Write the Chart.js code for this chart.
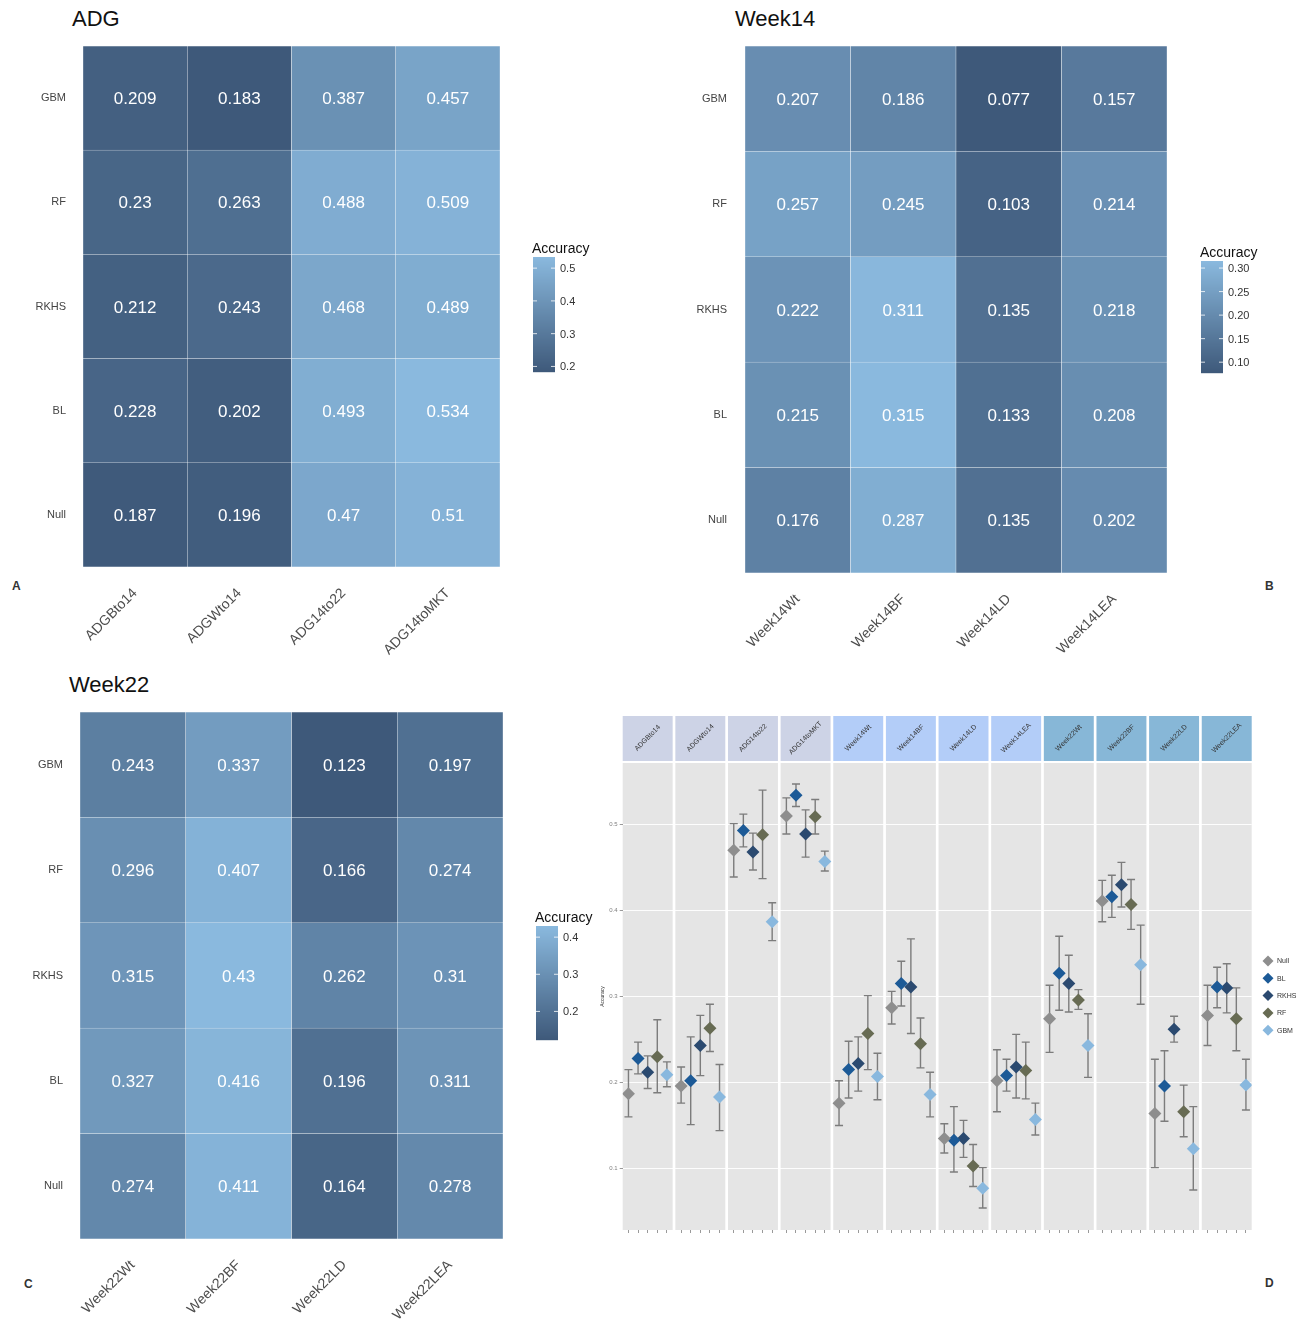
<!DOCTYPE html>
<html>
<head>
<meta charset="utf-8">
<script src="https://cdn.jsdelivr.net/npm/chart.js@4.4.0/dist/chart.umd.min.js"></script>
<style>
  body { margin: 0; background: #fff; width: 1300px; height: 1325px; position: relative; overflow: hidden;
         font-family: "Liberation Sans", Arial, sans-serif; }
  canvas { position: absolute; }
  .title { position: absolute; font-size: 22px; color: #111; line-height: 1; }
  .tag { position: absolute; font-size: 12px; font-weight: bold; color: #333; line-height: 1; }
</style>
</head>
<body>
<div class="title" style="left:72px;top:8px">ADG</div>
<div class="title" style="left:735px;top:8px">Week14</div>
<div class="title" style="left:69px;top:674px">Week22</div>
<div class="tag" style="left:12px;top:580px">A</div>
<div class="tag" style="left:1265px;top:580px">B</div>
<div class="tag" style="left:24px;top:1278px">C</div>
<div class="tag" style="left:1265px;top:1277px">D</div>

<canvas id="hmADG" width="650" height="665" style="left:0;top:0"></canvas>
<canvas id="hmW14" width="650" height="665" style="left:650px;top:0"></canvas>
<canvas id="dots" width="710" height="660" style="left:590px;top:665px"></canvas>
<canvas id="hmW22" width="620" height="660" style="left:0;top:665px"></canvas>

<script>
// ---- data ----
const models = ['Null', 'BL', 'RKHS', 'RF', 'GBM'];          // heatmap rows, bottom to top

const adgTraits  = ['ADGBto14', 'ADGWto14', 'ADG14to22', 'ADG14toMKT'];
const wk14Traits = ['Week14Wt', 'Week14BF', 'Week14LD', 'Week14LEA'];
const wk22Traits = ['Week22Wt', 'Week22BF', 'Week22LD', 'Week22LEA'];

// accuracy by model, one value per trait
const adgNull = [0.187, 0.196, 0.47, 0.51];
const adgBL   = [0.228, 0.202, 0.493, 0.534];
const adgRKHS = [0.212, 0.243, 0.468, 0.489];
const adgRF   = [0.23, 0.263, 0.488, 0.509];
const adgGBM  = [0.209, 0.183, 0.387, 0.457];

const wk14Null = [0.176, 0.287, 0.135, 0.202];
const wk14BL   = [0.215, 0.315, 0.133, 0.208];
const wk14RKHS = [0.222, 0.311, 0.135, 0.218];
const wk14RF   = [0.257, 0.245, 0.103, 0.214];
const wk14GBM  = [0.207, 0.186, 0.077, 0.157];

const wk22Null = [0.274, 0.411, 0.164, 0.278];
const wk22BL   = [0.327, 0.416, 0.196, 0.311];
const wk22RKHS = [0.315, 0.43, 0.262, 0.31];
const wk22RF   = [0.296, 0.407, 0.166, 0.274];
const wk22GBM  = [0.243, 0.337, 0.123, 0.197];

// colour-bar tick labels
const adgBarTicks  = [0.2, 0.3, 0.4, 0.5];
const wk14BarTicks = [0.10, 0.15, 0.20, 0.25, 0.30];
const wk22BarTicks = [0.2, 0.3, 0.4];

// interval bounds for the dot plot (12 traits: ADG, Week14, Week22)
const nullLower = [0.160, 0.176, 0.439, 0.489, 0.150, 0.268, 0.118, 0.166, 0.235, 0.387, 0.101, 0.243];
const nullUpper = [0.215, 0.218, 0.501, 0.531, 0.202, 0.306, 0.152, 0.238, 0.313, 0.435, 0.227, 0.313];
const blLower   = [0.210, 0.151, 0.474, 0.521, 0.182, 0.289, 0.096, 0.190, 0.284, 0.392, 0.155, 0.287];
const blUpper   = [0.247, 0.253, 0.512, 0.547, 0.248, 0.341, 0.172, 0.227, 0.370, 0.441, 0.237, 0.334];
const rkhsLower = [0.193, 0.208, 0.447, 0.462, 0.190, 0.257, 0.113, 0.182, 0.282, 0.404, 0.247, 0.281];
const rkhsUpper = [0.231, 0.278, 0.490, 0.517, 0.253, 0.367, 0.156, 0.256, 0.348, 0.456, 0.277, 0.338];
const rfLower   = [0.188, 0.236, 0.437, 0.489, 0.215, 0.217, 0.079, 0.181, 0.285, 0.378, 0.137, 0.237];
const rfUpper   = [0.273, 0.291, 0.540, 0.529, 0.301, 0.275, 0.128, 0.247, 0.308, 0.436, 0.197, 0.310];
const gbmLower  = [0.195, 0.144, 0.365, 0.446, 0.180, 0.160, 0.054, 0.139, 0.206, 0.291, 0.075, 0.168];
const gbmUpper  = [0.224, 0.221, 0.409, 0.469, 0.234, 0.212, 0.101, 0.176, 0.280, 0.383, 0.172, 0.227];

const dotTicks = [0.1, 0.2, 0.3, 0.4, 0.5];

// ---- styling ----
const FONT = '"Liberation Sans", Arial, sans-serif';
Chart.defaults.font.family = FONT;
Chart.defaults.animation = false;

const LOW = [62, 89, 122], HIGH = [138, 185, 222];
function shade(t) {
  t = Math.max(0, Math.min(1, t));
  const c = LOW.map((l, i) => Math.round(l + (HIGH[i] - l) * t));
  return `rgb(${c[0]},${c[1]},${c[2]})`;
}

// cell value labels
const cellText = {
  id: 'cellText',
  afterDatasetsDraw(chart) {
    const ctx = chart.ctx;
    ctx.save();
    ctx.fillStyle = '#fff';
    ctx.font = '17px ' + FONT;
    ctx.textAlign = 'center';
    ctx.textBaseline = 'middle';
    chart.data.datasets.forEach((ds, di) => {
      chart.getDatasetMeta(di).data.forEach((bar, i) => {
        const c = bar.getCenterPoint();
        ctx.fillText(String(ds.acc[i]), c.x, c.y + 1.5);
      });
    });
    ctx.restore();
  }
};

// continuous colour legend
const colorBar = {
  id: 'colorBar',
  afterDraw(chart, args, o) {
    const ctx = chart.ctx;
    const h = o.bottom - o.top;
    ctx.save();
    for (let k = 0; k < h; k++) {
      ctx.fillStyle = shade(1 - (k + 0.5) / h);
      ctx.fillRect(o.x, o.top + k, o.width, 1.2);
    }
    ctx.fillStyle = '#111';
    ctx.font = '14px ' + FONT;
    ctx.textAlign = 'left';
    ctx.textBaseline = 'alphabetic';
    ctx.fillText('Accuracy', o.x - 1, o.top - 4);
    ctx.font = '11px ' + FONT;
    ctx.textBaseline = 'middle';
    ctx.strokeStyle = 'rgba(255,255,255,0.8)';
    ctx.lineWidth = 1;
    o.ticks.forEach(v => {
      const y = o.bottom - (v - o.lo) / (o.hi - o.lo) * h;
      ctx.beginPath();
      ctx.moveTo(o.x, y); ctx.lineTo(o.x + 4, y);
      ctx.moveTo(o.x + o.width - 4, y); ctx.lineTo(o.x + o.width, y);
      ctx.stroke();
      ctx.fillStyle = '#333';
      ctx.fillText(o.labels ? v.toFixed(2) : String(v), o.x + o.width + 5, y + 1);
    });
    ctx.restore();
  }
};

function heatmap(id, traits, rows, box, bar) {
  const all = rows.flat();
  const lo = Math.min(...all), hi = Math.max(...all);
  const datasets = rows.map((vals, i) => ({
    label: models[i],
    data: vals.map(() => 1),
    acc: vals,
    backgroundColor: vals.map(v => shade((v - lo) / (hi - lo))),
    borderColor: 'rgba(255,255,255,0.45)',
    borderWidth: 0.5,
    borderSkipped: false,
    barPercentage: 1,
    categoryPercentage: 1
  }));
  return new Chart(document.getElementById(id), {
    type: 'bar',
    data: { labels: traits, datasets },
    options: {
      responsive: false,
      events: [],
      layout: { padding: { left: 0, top: box.top, right: box.right, bottom: 0 } },
      plugins: {
        legend: { display: false },
        tooltip: { enabled: false },
        colorBar: Object.assign({ lo, hi }, bar)
      },
      scales: {
        x: {
          stacked: true,
          grid: { display: false },
          border: { display: false },
          ticks: { color: '#4d4d4d', font: { size: 14 }, minRotation: 45, maxRotation: 45, autoSkip: false, padding: 10 },
          afterFit: s => { s.height = box.xh; }
        },
        y: {
          stacked: true, min: 0, max: models.length,
          grid: { display: false },
          border: { display: false },
          afterBuildTicks: s => { s.ticks = models.map((m, i) => ({ value: i + 0.5 })); },
          ticks: { color: '#444', font: { size: 11 }, padding: box.ypad, callback: (v, i) => models[i] },
          afterFit: s => { s.width = box.yw; }
        }
      }
    },
    plugins: [cellText, colorBar]
  });
}

heatmap('hmADG', adgTraits, [adgNull, adgBL, adgRKHS, adgRF, adgGBM],
  { top: 46, right: 150, xh: 98, yw: 83, ypad: 9 },
  { x: 533, width: 22, top: 257, bottom: 372, ticks: adgBarTicks });
heatmap('hmW14', wk14Traits, [wk14Null, wk14BL, wk14RKHS, wk14RF, wk14GBM],
  { top: 46, right: 133, xh: 92, yw: 95, ypad: 10 },
  { x: 551, width: 22, top: 261, bottom: 373, ticks: wk14BarTicks, labels: true });
heatmap('hmW22', wk22Traits, [wk22Null, wk22BL, wk22RKHS, wk22RF, wk22GBM],
  { top: 47, right: 117, xh: 86, yw: 80, ypad: 9 },
  { x: 536, width: 22, top: 261, bottom: 375, ticks: wk22BarTicks });

// ---- dot plot with intervals, faceted by trait ----
const dotTraits = adgTraits.concat(wk14Traits, wk22Traits);
const stripColors = ['#cdd3e6', '#b3cdf8', '#87b7d7'];
const stripGroup = dotTraits.map(t => adgTraits.includes(t) ? 0 : (wk14Traits.includes(t) ? 1 : 2));
const FACET = 5.48, PANEL = 5.2;                       // x units per facet / panel width
const pos = (f, k) => f * FACET + 0.6 + k;             // k = model index within facet

const dotSeries = [
  { name: 'Null', color: '#8e8e8e', acc: adgNull.concat(wk14Null, wk22Null), lower: nullLower, upper: nullUpper },
  { name: 'BL',   color: '#1c5a97', acc: adgBL.concat(wk14BL, wk22BL),       lower: blLower,   upper: blUpper },
  { name: 'RKHS', color: '#2b4a70', acc: adgRKHS.concat(wk14RKHS, wk22RKHS), lower: rkhsLower, upper: rkhsUpper },
  { name: 'RF',   color: '#676b53', acc: adgRF.concat(wk14RF, wk22RF),       lower: rfLower,   upper: rfUpper },
  { name: 'GBM',  color: '#89b8de', acc: adgGBM.concat(wk14GBM, wk22GBM),    lower: gbmLower,  upper: gbmUpper }
];

const facets = {
  id: 'facets',
  beforeDraw(chart) {
    const { ctx, chartArea: a, scales: { x } } = chart;
    ctx.save();
    dotTraits.forEach((t, f) => {
      const l = x.getPixelForValue(f * FACET), r = x.getPixelForValue(f * FACET + PANEL);
      ctx.fillStyle = '#e5e5e5';
      ctx.fillRect(l, a.top, r - l, a.bottom - a.top);
      ctx.fillStyle = stripColors[stripGroup[f]];
      ctx.fillRect(l, a.top - 47, r - l, 45);
      ctx.save();
      ctx.translate((l + r) / 2, a.top - 25);
      ctx.rotate(-Math.PI / 4);
      ctx.fillStyle = '#333';
      ctx.font = '7px ' + FONT;
      ctx.textAlign = 'center';
      ctx.textBaseline = 'middle';
      ctx.fillText(t, 0, 0);
      ctx.restore();
    });
    ctx.restore();
  }
};

const errorBars = {
  id: 'errorBars',
  beforeDatasetsDraw(chart) {
    const { ctx, scales: { y } } = chart;
    ctx.save();
    ctx.strokeStyle = 'rgba(112,112,112,0.9)';
    ctx.lineWidth = 1.4;
    chart.data.datasets.forEach((ds, di) => {
      chart.getDatasetMeta(di).data.forEach((pt, i) => {
        const top = y.getPixelForValue(ds.upper[i]), bot = y.getPixelForValue(ds.lower[i]);
        ctx.beginPath();
        ctx.moveTo(pt.x, top); ctx.lineTo(pt.x, bot);
        ctx.moveTo(pt.x - 4, top); ctx.lineTo(pt.x + 4, top);
        ctx.moveTo(pt.x - 4, bot); ctx.lineTo(pt.x + 4, bot);
        ctx.stroke();
      });
    });
    ctx.restore();
  }
};

const keyBox = {
  id: 'keyBox',
  afterDraw(chart) {
    const ctx = chart.ctx;
    ctx.save();
    ctx.font = '7px ' + FONT;
    ctx.textBaseline = 'middle';
    chart.data.datasets.forEach((ds, i) => {
      const cy = 296 + i * 17.3, cx = 678;
      ctx.fillStyle = ds.backgroundColor;
      ctx.beginPath();
      ctx.moveTo(cx - 5.5, cy); ctx.lineTo(cx, cy - 5.5); ctx.lineTo(cx + 5.5, cy); ctx.lineTo(cx, cy + 5.5);
      ctx.closePath(); ctx.fill();
      ctx.fillStyle = '#333';
      ctx.fillText(ds.label, 687, cy + 0.5);
    });
    ctx.restore();
  }
};

new Chart(document.getElementById('dots'), {
  type: 'scatter',
  data: {
    datasets: dotSeries.map((s, k) => ({
      label: s.name,
      data: s.acc.map((v, f) => ({ x: pos(f, k), y: v })),
      lower: s.lower,
      upper: s.upper,
      pointStyle: 'rectRot',
      pointRadius: 6.5,
      borderWidth: 0,
      backgroundColor: s.color
    }))
  },
  options: {
    responsive: false,
    events: [],
    layout: { padding: { left: 0, top: 98, right: 48.3, bottom: 0 } },
    plugins: { legend: { display: false }, tooltip: { enabled: false } },
    scales: {
      x: {
        type: 'linear', min: 0, max: (dotTraits.length - 1) * FACET + PANEL,
        afterBuildTicks: s => {
          s.ticks = dotTraits.flatMap((t, f) => models.map((m, k) => ({ value: pos(f, k) })));
        },
        grid: { drawOnChartArea: false, drawTicks: true, tickLength: 3, color: '#9a9a9a' },
        border: { display: false },
        ticks: { display: true, callback: () => '', padding: 0 },
        afterFit: s => { s.height = 95; }
      },
      y: {
        min: 0.0285, max: 0.5715,
        afterBuildTicks: s => { s.ticks = dotTicks.map(v => ({ value: v })); },
        grid: { color: 'rgba(255,255,255,0.9)', lineWidth: 1, tickLength: 3, tickColor: '#9a9a9a' },
        border: { display: false },
        ticks: { color: '#7f7f7f', font: { size: 6 }, padding: 2, callback: v => String(v) },
        title: { display: true, text: 'Accuracy', color: '#333', font: { size: 5 }, padding: { top: 10, bottom: 0 } },
        afterFit: s => { s.width = 32.7; }
      }
    }
  },
  plugins: [facets, errorBars, keyBox]
});
</script>
</body>
</html>
